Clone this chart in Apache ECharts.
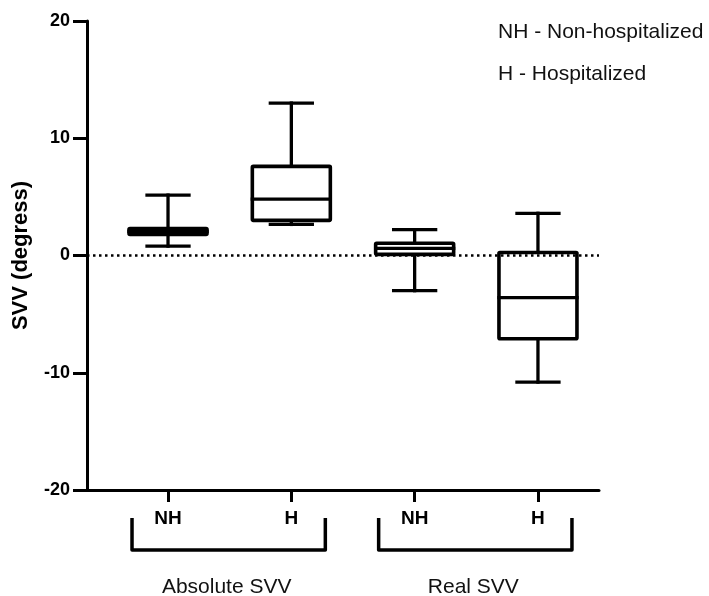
<!DOCTYPE html>
<html>
<head>
<meta charset="utf-8">
<script src="https://cdn.jsdelivr.net/npm/echarts@6/dist/echarts.min.js"></script>
<style>
  html, body { margin: 0; padding: 0; background: #fff; }
  #main { width: 709px; height: 596px; }
</style>
</head>
<body>
<div id="main"></div>
<script>
// chart data
const categories = ['NH', 'H', 'NH', 'H'];
const groupNames = ['Absolute SVV', 'Real SVV'];
const groupMembers = [[1, 2], [3, 4]];
// five-number summary per box
const boxMin = [0.8, 2.65, -3.0, -10.8];
const boxQ1 = [1.8, 3.0, 0.1, -7.1];
const boxMedian = [2.05, 4.8, 0.6, -3.6];
const boxQ3 = [2.3, 7.6, 1.05, 0.25];
const boxMax = [5.15, 13.0, 2.2, 3.6];
const yTicks = [-20, -10, 0, 10, 20];
const legendLines = ['NH - Non-hospitalized', 'H - Hospitalized'];

const FONT = '"Liberation Sans", Arial, sans-serif';

document.addEventListener('DOMContentLoaded', function () {
    var myChart = echarts.init(document.getElementById('main'));

    const boxData = categories.map((c, i) =>
        [i + 1, boxMin[i], boxQ1[i], boxMedian[i], boxQ3[i], boxMax[i]]);
    const groupData = groupNames.map((g, i) =>
        [groupMembers[i][0], groupMembers[i][1], g]);

    const lineStyle = { stroke: '#000', lineWidth: 3.3, lineCap: 'square' };

    // one box with whiskers
    function renderBox(params, api) {
        const x = api.value(0);
        const pMin = api.coord([x, api.value(1)]);
        const pQ1 = api.coord([x, api.value(2)]);
        const pMed = api.coord([x, api.value(3)]);
        const pQ3 = api.coord([x, api.value(4)]);
        const pMax = api.coord([x, api.value(5)]);
        const cx = pMed[0];
        const boxHalf = 39;
        const capHalf = 21;
        const line = (x1, y1, x2, y2) => ({
            type: 'line',
            shape: { x1: x1, y1: y1, x2: x2, y2: y2 },
            style: lineStyle
        });
        return {
            type: 'group',
            children: [
                line(cx, pMax[1], cx, pQ3[1]),
                line(cx, pQ1[1], cx, pMin[1]),
                line(cx - capHalf, pMax[1], cx + capHalf, pMax[1]),
                line(cx - capHalf, pMin[1], cx + capHalf, pMin[1]),
                {
                    type: 'rect',
                    shape: { x: cx - boxHalf, y: pQ3[1], width: boxHalf * 2, height: pQ1[1] - pQ3[1], r: 1 },
                    style: { fill: '#fff', stroke: '#000', lineWidth: 3.6 }
                },
                line(cx - boxHalf, pMed[1], cx + boxHalf, pMed[1])
            ]
        };
    }

    // group brackets under the category labels
    function renderBracket(params, api) {
        const a = api.coord([api.value(0), -20]);
        const b = api.coord([api.value(1), -20]);
        const left = a[0] - 36;
        const right = b[0] + 34;
        const top = a[1] + 28;
        const bottom = a[1] + 60;
        return {
            type: 'group',
            children: [
                {
                    type: 'polyline',
                    shape: { points: [[left, top], [left, bottom], [right, bottom], [right, top]] },
                    style: { stroke: '#000', lineWidth: 3.5, fill: null, lineJoin: 'round' }
                },
                {
                    type: 'text',
                    style: {
                        text: api.value(2),
                        x: (a[0] + b[0]) / 2 - 3,
                        y: a[1] + 97,
                        align: 'center',
                        verticalAlign: 'middle',
                        font: '21px ' + FONT,
                        fill: '#111'
                    }
                }
            ]
        };
    }

    var option = {
        animation: false,
        backgroundColor: '#fff',
        grid: { left: 87, right: 110, top: 21, bottom: 106 },
        graphic: legendLines.map((t, i) => ({
            type: 'text',
            left: 498,
            top: 22 + i * 42,
            style: { text: t, font: '21px ' + FONT, fill: '#111' }
        })),
        xAxis: {
            type: 'value',
            min: 0.343,
            max: 4.495,
            splitLine: { show: false },
            axisLine: { show: true, onZero: false, lineStyle: { color: '#000', width: 3 } },
            axisTick: {
                show: true,
                customValues: [1, 2, 3, 4],
                length: 12,
                lineStyle: { color: '#000', width: 3 }
            },
            axisLabel: {
                customValues: [1, 2, 3, 4],
                formatter: v => categories[Math.round(v) - 1],
                margin: 19,
                color: '#000',
                fontWeight: 'bold',
                fontSize: 19,
                fontFamily: FONT
            }
        },
        yAxis: {
            type: 'value',
            min: -20,
            max: 20,
            interval: 10,
            name: 'SVV (degress)',
            nameLocation: 'middle',
            nameGap: 55,
            nameTextStyle: { fontWeight: 'bold', fontSize: 22, fontFamily: FONT, color: '#000' },
            splitLine: { show: false },
            axisLine: { show: true, onZero: false, lineStyle: { color: '#000', width: 3 } },
            axisTick: { show: true, length: 14, lineStyle: { color: '#000', width: 3 } },
            axisLabel: {
                customValues: yTicks,
                margin: 17,
                color: '#000',
                fontWeight: 'bold',
                fontSize: 18,
                fontFamily: FONT
            }
        },
        series: [
            {
                type: 'custom',
                name: 'boxes',
                renderItem: renderBox,
                data: boxData,
                z: 3,
                markLine: {
                    silent: true,
                    symbol: 'none',
                    label: { show: false },
                    lineStyle: { color: '#000', type: [2.5, 3.5], width: 2.5 },
                    data: [{ yAxis: 0 }],
                    z: 4
                }
            },
            {
                type: 'custom',
                name: 'groups',
                renderItem: renderBracket,
                data: groupData,
                clip: false,
                silent: true
            }
        ]
    };

    option && myChart.setOption(option);
});
</script>
</body>
</html>
